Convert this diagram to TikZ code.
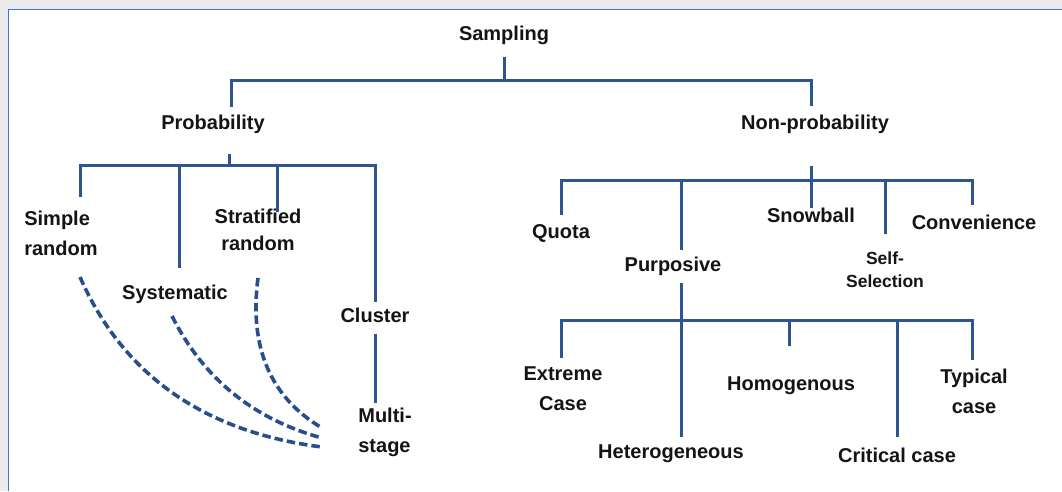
\documentclass[tikz,border=0pt]{standalone}
\usepackage{fontspec}
\setmainfont{Liberation Sans}
\begin{document}
\definecolor{linecol}{RGB}{47,85,144}
\definecolor{dashcol}{RGB}{40,78,140}
\definecolor{framecol}{RGB}{68,114,196}
\definecolor{paper}{RGB}{236,236,236}
\definecolor{txt}{RGB}{20,20,20}
\tikzset{
  lbl/.style={font=\bfseries\fontsize{20}{30}\selectfont, inner sep=0pt, text=txt},
  lblc/.style={lbl, align=center},
  lbll/.style={lbl, align=left},
  small/.style={font=\bfseries\fontsize{17.5}{23}\selectfont, inner sep=0pt, text=txt, align=center},
  branch/.style={draw=linecol, line width=3pt, line join=miter},
  linkdash/.style={draw=dashcol, line width=3.6pt, dash pattern=on 8.5pt off 4pt},
}
\begin{tikzpicture}[x=1pt,y=-1pt]
  % page and frame
  \useasboundingbox (0,0) rectangle (1062,491);
  \fill[paper] (0,0) rectangle (1062,491);
  \fill[white] (8,9) rectangle (1062,491);
  \draw[framecol, line width=1.5pt] (8.5,491) -- (8.5,9.5) -- (1062,9.5);

  % labels
  \node[lbl, anchor=base] (samp) at (504,40) {Sampling};
  \node[lbl, anchor=base] (prob) at (213,129) {Probability};
  \node[lbl, anchor=base] (nonp) at (815,129) {Non-probability};

  \node[lbll] (srand) at (61,233) {Simple\\random};
  \node[lbl, anchor=base] (syst) at (175,299) {Systematic};
  \node[lblc] (strat) at (258,230) {Stratified\\[-3pt]random};
  \node[lbl, anchor=base] (clus) at (375,322) {Cluster};
  \node[lbll] (multi) at (385,432) {Multi-\\stage};

  \node[lbl, anchor=base] (quota) at (561,238) {Quota};
  \node[lbl, anchor=base] (purp) at (673,271) {Purposive};
  \node[lbl, anchor=base] (snow) at (811,222) {Snowball};
  \node[small] (self) at (885,270) {Self-\\Selection};
  \node[lbl, anchor=base] (conv) at (974,229) {Convenience};

  \node[lblc] (extr) at (563,389) {Extreme\\Case};
  \node[lbl, anchor=base] (hete) at (671,458) {Heterogeneous};
  \node[lbl, anchor=base] (homo) at (791,390) {Homogenous};
  \node[lbl, anchor=base] (crit) at (897,462) {Critical case};
  \node[lblc] (typi) at (974,391) {Typical\\case};

  % line ends
  \coordinate (samp-s) at (504,57);
  \coordinate (samp-j) at (504,80);
  \coordinate (prob-n) at (231,107);
  \coordinate (nonp-n) at (811,106);

  \coordinate (prob-s) at (229,154);
  \coordinate (prob-j) at (229,165);
  \coordinate (srand-n) at (80,197);
  \coordinate (syst-n) at (179,268);
  \coordinate (strat-n) at (277,212);
  \coordinate (clus-n) at (375,302);
  \coordinate (clus-s) at (375,334);
  \coordinate (multi-n) at (375,403);

  \coordinate (nonp-s) at (811,166);
  \coordinate (nonp-j) at (811,180);
  \coordinate (quota-n) at (561,215);
  \coordinate (purp-n) at (681,250);
  \coordinate (snow-n) at (811,208);
  \coordinate (self-n) at (885,234);
  \coordinate (conv-n) at (972,205);

  \coordinate (purp-s) at (681,283);
  \coordinate (purp-j) at (681,320);
  \coordinate (extr-n) at (561,358);
  \coordinate (hete-n) at (681,437);
  \coordinate (homo-n) at (789,346);
  \coordinate (crit-n) at (897,437);
  \coordinate (typi-n) at (972,360);

  % dashed link ends
  \coordinate (srand-d) at (80,277);
  \coordinate (syst-d) at (172,316);
  \coordinate (strat-d) at (258,278);
  \coordinate (multi-a) at (322,447);
  \coordinate (multi-b) at (322,438);
  \coordinate (multi-c) at (322,428);

  % Sampling
  \draw[branch] (samp-s) -- (samp-j);
  \draw[branch] (prob-n) |- (samp-j) -| (nonp-n);

  % Probability
  \draw[branch] (prob-s) -- (prob-j);
  \draw[branch] (srand-n) |- (prob-j) -| (clus-n);
  \draw[branch] (syst-n) -- (syst-n |- prob-j);
  \draw[branch] (strat-n) -- (strat-n |- prob-j);
  \draw[branch] (clus-s) -- (multi-n);

  % Non-probability
  \draw[branch] (nonp-s) -- (snow-n);
  \draw[branch] (quota-n) |- (nonp-j) -| (conv-n);
  \draw[branch] (purp-n) -- (purp-n |- nonp-j);
  \draw[branch] (self-n) -- (self-n |- nonp-j);

  % Purposive
  \draw[branch] (purp-s) -- (hete-n);
  \draw[branch] (extr-n) |- (purp-j) -| (typi-n);
  \draw[branch] (homo-n) -- (homo-n |- purp-j);
  \draw[branch] (crit-n) -- (crit-n |- purp-j);

  % dashed links into Multi-stage
  \draw[linkdash] (srand-d) .. controls (123,375) and (204,432) .. (multi-a);
  \draw[linkdash] (syst-d) .. controls (203,378) and (253,419) .. (multi-b);
  \draw[linkdash] (strat-d) .. controls (249,347) and (270,397) .. (multi-c);
\end{tikzpicture}
\end{document}
